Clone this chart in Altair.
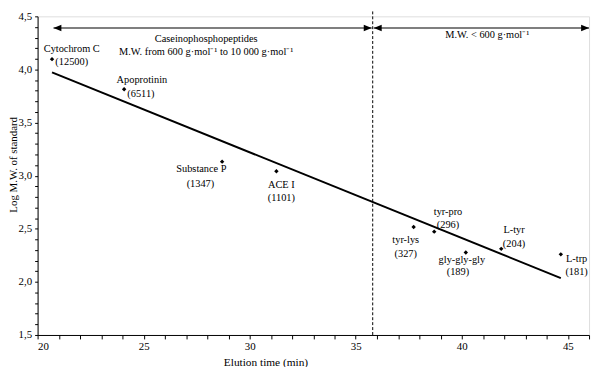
import altair as alt
import pandas as pd

# ---- data ----
names = ["Cytochrom C", "Apoprotinin", "Substance P", "ACE I", "tyr-lys",
         "tyr-pro", "gly-gly-gly", "L-tyr", "L-trp"]
mw_labels = ["(12500)", "(6511)", "(1347)", "(1101)", "(327)",
             "(296)", "(189)", "(204)", "(181)"]
elution = [20.68, 24.08, 28.70, 31.26, 37.73, 38.70, 40.19, 41.86, 44.67]
log_mw = [4.097, 3.814, 3.132, 3.042, 2.516, 2.473, 2.277, 2.311, 2.259]

fit_x = [20.68, 44.67]
fit_y = [3.972, 2.036]

divider_x = [35.8]
arrow_y = 4.39
left_arrow = [20.75, 35.75]
right_arrow = [35.85, 46.0]

region_texts = ["Caseinophosphopeptides",
                "M.W. from 600 g\u00b7mol\u207b\u00b9 to 10 000 g\u00b7mol\u207b\u00b9",
                "M.W. < 600 g\u00b7mol\u207b\u00b9"]
region_x = [27.95, 27.95, 41.2]
region_y = [4.283, 4.164, 4.326]

x_ticks = list(range(20, 47))
y_ticks = [round(1.5 + 0.1 * i, 1) for i in range(31)]

# label offsets in pixels (name dx, dy, value dx, dy) - styling
offsets = {
    "Cytochrom C": (20, -10, 20, 3),
    "Apoprotinin": (18, -9, 17, 5),
    "Substance P": (-21, 8, -22, 23),
    "ACE I": (5, 14, 5, 27),
    "tyr-lys": (-8, 13, -8, 27),
    "tyr-pro": (14, -20, 14, -7),
    "gly-gly-gly": (-4, 8, -8, 20),
    "L-tyr": (13, -19, 13, -5),
    "L-trp": (16, 5, 16, 18),
}

FONT = "Liberation Serif, Times New Roman, serif"
W, H = 559, 323

pts = pd.DataFrame({"name": names, "mw": mw_labels, "x": elution, "y": log_mw})
fit = pd.DataFrame({"x": fit_x, "y": fit_y})
arrows = pd.DataFrame({"x": [left_arrow[0], right_arrow[0]],
                       "x2": [left_arrow[1], right_arrow[1]],
                       "y": [arrow_y, arrow_y]})
regions = pd.DataFrame({"t": region_texts, "x": region_x, "y": region_y})

xs = alt.Scale(domain=[20, 46], nice=False, zero=False)
ys = alt.Scale(domain=[1.5, 4.5], nice=False, zero=False)

x_axis = alt.Axis(values=x_ticks,
                  labelExpr="datum.value % 5 == 0 ? datum.value : ''",
                  labelOverlap=False, tickSize=4, tickColor="black",
                  domainColor="black", labelColor="black", labelFont=FONT,
                  labelFontSize=11, labelPadding=2, title="Elution time (min)",
                  titleFont=FONT, titleFontSize=11.5, titleFontWeight="normal",
                  titleColor="black", titleX=231, titleY=28,
                  titleBaseline="middle", titleAlign="center", grid=False)
y_axis = alt.Axis(values=y_ticks,
                  labelExpr="abs(datum.value*2 - round(datum.value*2)) < 0.001 ? replace(format(datum.value, '.1f'), '.', ',') : ''",
                  labelOverlap=False, tickSize=3, tickColor="black",
                  domainColor="black", labelColor="black", labelFont=FONT,
                  labelFontSize=11, labelPadding=3,
                  title="Log M.W. of standard", titleFont=FONT,
                  titleFontSize=11, titleFontWeight="normal",
                  titleColor="black", titleX=-24, titleY=150,
                  titleBaseline="middle", titleAlign="center", titleAngle=-90,
                  grid=False)

X = alt.X("x:Q", scale=xs, axis=x_axis)
Y = alt.Y("y:Q", scale=ys, axis=y_axis)

points = alt.Chart(pts).mark_point(shape="diamond", filled=True, size=20,
                                   color="black", opacity=1).encode(x=X, y=Y)

line = alt.Chart(fit).mark_line(color="black", strokeWidth=2).encode(x=X, y=Y)

divider = alt.Chart(pd.DataFrame({"x": divider_x})).mark_rule(
    color="black", strokeWidth=1, strokeDash=[3, 2]).encode(
    x=X, y=alt.value(-5), y2=alt.value(H))

arrow_lines = alt.Chart(arrows).mark_rule(color="black", strokeWidth=1.2).encode(
    x=X, x2="x2:Q", y=Y)

left_heads = alt.Chart(arrows).mark_point(
    shape="M0,0 L1,-0.4 L1,0.4 Z", filled=True, size=256, color="black",
    opacity=1, strokeWidth=0).encode(x=X, y=Y)
right_heads = alt.Chart(arrows).mark_point(
    shape="M0,0 L-1,-0.4 L-1,0.4 Z", filled=True, size=256, color="black",
    opacity=1, strokeWidth=0).encode(
    x=alt.X("x2:Q", scale=xs, axis=x_axis), y=Y)

region_text = alt.Chart(regions).mark_text(
    font=FONT, fontSize=10.5, color="black", align="center",
    baseline="middle").encode(x=X, y=Y, text="t:N")

layers = [divider, line, arrow_lines, left_heads, right_heads, points, region_text]

for n in names:
    ndx, ndy, vdx, vdy = offsets[n]
    sub = pts[pts["name"] == n]
    layers.append(alt.Chart(sub).mark_text(
        font=FONT, fontSize=10.5, color="black", align="center",
        baseline="middle", dx=ndx, dy=ndy).encode(x=X, y=Y, text="name:N"))
    layers.append(alt.Chart(sub).mark_text(
        font=FONT, fontSize=10.5, color="black", align="center",
        baseline="middle", dx=vdx, dy=vdy).encode(x=X, y=Y, text="mw:N"))

chart = alt.layer(*layers).properties(
    width=W, height=H,
    autosize=alt.AutoSizeParams(type="none"),
    padding={"left": 30, "top": 6, "right": 3, "bottom": 30},
).configure_view(stroke=None).configure(background="white")

chart.save("out.html", embed_options={"renderer": "svg", "actions": False})
